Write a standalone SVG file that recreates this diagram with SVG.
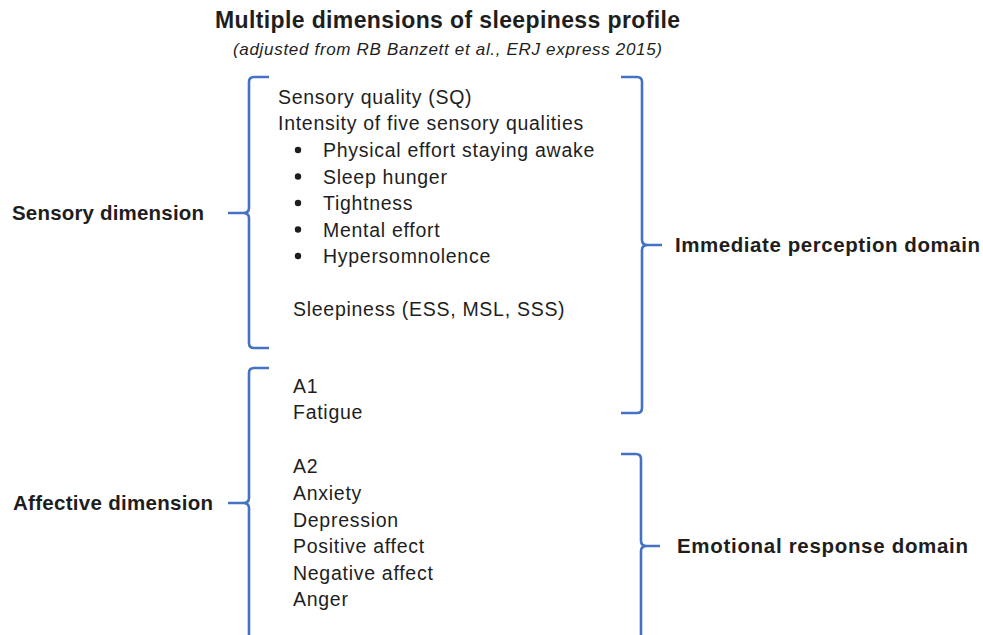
<svg xmlns="http://www.w3.org/2000/svg" width="983" height="635" viewBox="0 0 983 635">
<style>
text{font-family:"Liberation Sans",Arial,Helvetica,sans-serif;fill:#1e1e1e}
.t{font-size:23px;font-weight:bold}
.st{font-size:17px;font-style:italic}
.b{font-size:19.5px;letter-spacing:0.72px}
.lb{font-size:20.5px;font-weight:bold}
.br{fill:none;stroke:#4472c4;stroke-width:2.6;stroke-linecap:butt;stroke-linejoin:round}
.dot{fill:#1e1e1e}
</style>
<rect width="983" height="635" fill="#ffffff"/>
<g id="title">
<text class="t" x="215" y="28" textLength="465" lengthAdjust="spacing">Multiple dimensions of sleepiness profile</text>
<text class="st" x="233" y="55" textLength="429" lengthAdjust="spacing">(adjusted from RB Banzett et al., ERJ express 2015)</text>
</g>
<g id="connectors">
<path class="br" d="M269,77 H254 Q249,77 249,82 V208 Q249,213 243,213 H228 M243,213 Q249,213 249,218 V343 Q249,348 254,348 H269"/>
<path class="br" d="M269,368 H254 Q249,368 249,373 V498 Q249,503 243,503 H228 M243,503 Q249,503 249,508 V636"/>
<path class="br" d="M621,77 H637 Q642,77 642,82 V240 Q642,245 648,245 H662 M648,245 Q642,245 642,250 V408 Q642,413 637,413 H621"/>
<path class="br" d="M621,454 H636 Q641,454 641,459 V541 Q641,546 647,546 H660 M647,546 Q641,546 641,551 V636"/>
</g>
<g id="sensory-dimension">
<text class="lb" x="12" y="220" textLength="192" lengthAdjust="spacing">Sensory dimension</text>
</g>
<g id="affective-dimension">
<text class="lb" x="13" y="510" textLength="200" lengthAdjust="spacing">Affective dimension</text>
</g>
<g id="immediate-perception-domain">
<text class="lb" x="675" y="252" textLength="305" lengthAdjust="spacing">Immediate perception domain</text>
</g>
<g id="emotional-response-domain">
<text class="lb" x="677" y="553" textLength="291" lengthAdjust="spacing">Emotional response domain</text>
</g>
<g id="sensory-content">
<text class="b" x="278" y="104">Sensory quality (SQ)</text>
<text class="b" x="278" y="130">Intensity of five sensory qualities</text>
<circle class="dot" cx="298" cy="150" r="3.2"/>
<text class="b" x="323" y="157">Physical effort staying awake</text>
<circle class="dot" cx="298" cy="176.5" r="3.2"/>
<text class="b" x="323" y="183.5">Sleep hunger</text>
<circle class="dot" cx="298" cy="203" r="3.2"/>
<text class="b" x="323" y="210">Tightness</text>
<circle class="dot" cx="298" cy="229.5" r="3.2"/>
<text class="b" x="323" y="236.5">Mental effort</text>
<circle class="dot" cx="298" cy="256" r="3.2"/>
<text class="b" x="323" y="263">Hypersomnolence</text>
<text class="b" x="293" y="316">Sleepiness (ESS, MSL, SSS)</text>
</g>
<g id="affective-content">
<text class="b" x="293" y="393">A1</text>
<text class="b" x="293" y="419">Fatigue</text>
<text class="b" x="293" y="473">A2</text>
<text class="b" x="293" y="500">Anxiety</text>
<text class="b" x="293" y="526.5">Depression</text>
<text class="b" x="293" y="553">Positive affect</text>
<text class="b" x="293" y="579.5">Negative affect</text>
<text class="b" x="293" y="606">Anger</text>
</g>
</svg>
